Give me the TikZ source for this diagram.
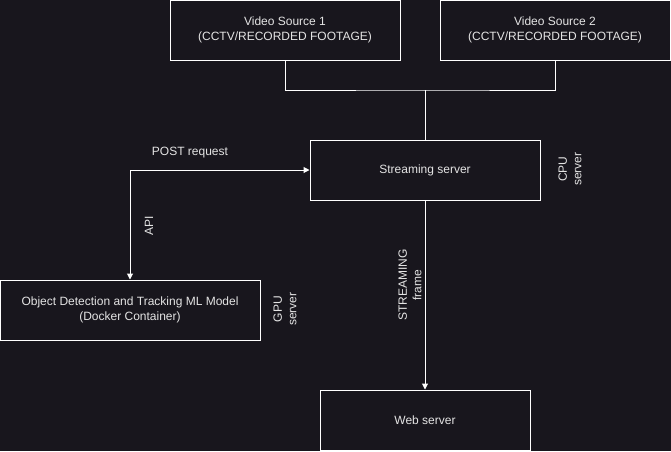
\documentclass[tikz,border=0pt]{standalone}
\usepackage{fontspec}
\setmainfont{Liberation Sans}
\usetikzlibrary{arrows.meta}
\definecolor{bg}{RGB}{24,22,29}
\definecolor{txt}{RGB}{228,228,228}
\begin{document}
\begin{tikzpicture}[x=1pt,y=-1pt,
  box/.style={draw=white,line width=1pt,fill=bg,text=txt,inner sep=0pt,align=center,
    font=\fontsize{12}{14.5}\selectfont},
  lbl/.style={text=txt,inner sep=0pt,align=center,font=\fontsize{12}{14.5}\selectfont},
  conn/.style={draw=white,line width=1pt},
  tip/.style={-{Triangle[length=6pt,width=6pt]}}]
\fill[bg] (0,0) rectangle (671,451);
\useasboundingbox (0,0) rectangle (671,451);
\node[box,minimum width=230pt,minimum height=60pt] (vs1) at (285,30) {Video Source 1\\(CCTV/RECORDED FOOTAGE)};
\node[box,minimum width=230pt,minimum height=60pt] (vs2) at (555,30) {Video Source 2\\(CCTV/RECORDED FOOTAGE)};
\node[box,minimum width=230pt,minimum height=60pt] (ss) at (425,170) {Streaming server};
\node[box,minimum width=260pt,minimum height=60pt] (ml) at (130,310) {Object Detection and Tracking ML Model\\(Docker Container)};
\node[box,minimum width=210pt,minimum height=60pt] (ws) at (425,420) {Web server};
\coordinate (j) at (425,90);
\draw[conn] (vs1.south) |- (j) -| (vs2.south);
\draw[conn] (j) -- (ss.north);
\draw[conn,tip] (ss.south) -- (ws.north);
\draw[conn,{Triangle[length=6pt,width=6pt]}-{Triangle[length=6pt,width=6pt]}] (ml.north) |- (ss.west);
\node[lbl] (post) at (190,153) {POST request};
\node[lbl,rotate=90] (api) at (149,226) {API};
\node[lbl,rotate=90] (strm) at (410,285) {STREAMING\\frame};
\node[lbl,rotate=90] (cpu) at (570,169) {CPU\\server};
\node[lbl,rotate=90] (gpu) at (285,309) {GPU\\server};
\end{tikzpicture}
\end{document}
